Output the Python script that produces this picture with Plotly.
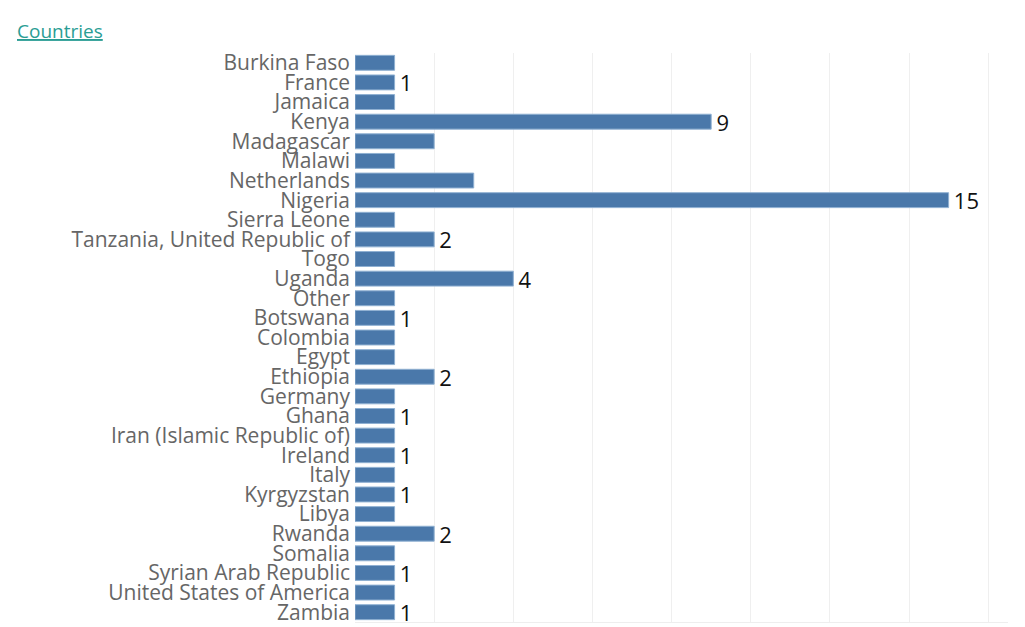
import plotly.graph_objects as go

countries = ["Burkina Faso", "France", "Jamaica", "Kenya", "Madagascar", "Malawi",
             "Netherlands", "Nigeria", "Sierra Leone", "Tanzania, United Republic of",
             "Togo", "Uganda", "Other", "Botswana", "Colombia", "Egypt", "Ethiopia",
             "Germany", "Ghana", "Iran (Islamic Republic of)", "Ireland", "Italy",
             "Kyrgyzstan", "Libya", "Rwanda", "Somalia", "Syrian Arab Republic",
             "United States of America", "Zambia"]
counts = [1, 1, 1, 9, 2, 1, 3, 15, 1, 2, 1, 4, 1, 1, 1, 1, 2, 1, 1, 1, 1, 1, 1, 1, 2, 1, 1, 1, 1]
shown_labels = ["", "1", "", "9", "", "", "", "15", "", "2", "", "4", "", "1", "", "", "2",
                "", "1", "", "1", "", "1", "", "2", "", "1", "", "1"]

W, H = 1025, 627
ML, MR, MT, MB = 355, 17, 53, 5
FONT = "Open Sans"

fig = go.Figure(go.Bar(
    x=counts, y=countries, orientation="h",
    marker=dict(color="#4a78aa", line=dict(color="#8fb0d2", width=1)),
    text=[("\u200a" + t) if t else "" for t in shown_labels],
    textposition="outside", cliponaxis=False,
    constraintext="none",
    textfont=dict(family=FONT, size=22, color="#111111"),
    hoverinfo="skip",
))

fig.update_layout(
    width=W, height=H,
    margin=dict(l=ML, r=MR, t=MT, b=MB, autoexpand=False),
    paper_bgcolor="white", plot_bgcolor="white",
    bargap=0.24, showlegend=False,
    font=dict(family=FONT),
    annotations=[dict(
        text="<u>Countries</u>",
        x=(15 - ML) / (W - ML - MR), y=(H - MB - 31) / (H - MT - MB),
        xref="paper", yref="paper",
        xanchor="left", yanchor="middle", showarrow=False,
        font=dict(family=FONT, size=19, color="#2a9d94"),
    )],
)

fig.update_xaxes(range=[0, 16.5], dtick=2, showgrid=True, gridcolor="#efefef",
                 showticklabels=False, zeroline=False, showline=True,
                 linecolor="#eeeeee", fixedrange=True)
fig.update_yaxes(autorange="reversed", categoryorder="array", categoryarray=countries,
                 tickmode="array", tickvals=countries, ticktext=countries,
                 tickfont=dict(family=FONT, size=21, color="#666666"),
                 ticklabelstandoff=4, showgrid=False, zeroline=False, fixedrange=True)

fig.write_html("out.html", config={"displayModeBar": False},
               post_script="document.body.style.margin='0';document.body.style.overflow='hidden';")
